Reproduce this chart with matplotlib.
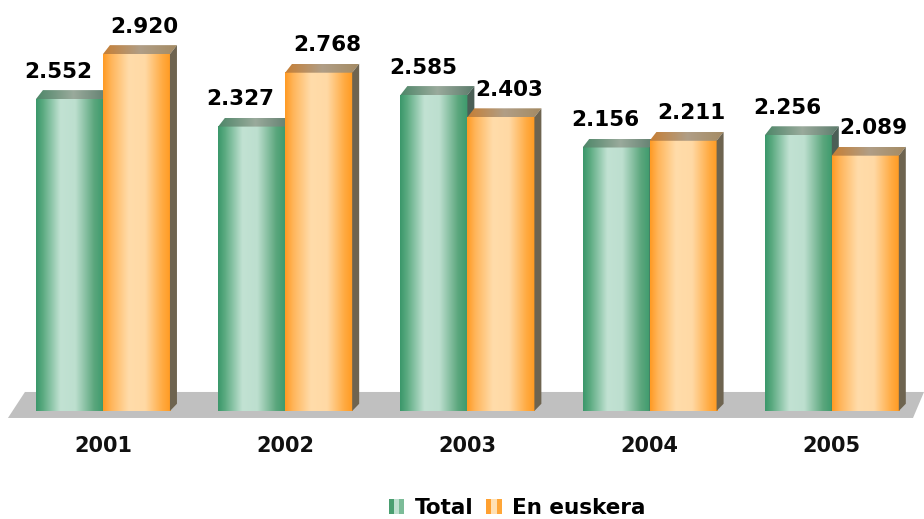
import matplotlib
matplotlib.use("Agg")
import matplotlib.pyplot as plt
import numpy as np
from matplotlib.colors import LinearSegmentedColormap
from matplotlib.patches import Polygon, Rectangle, Patch
from matplotlib.legend_handler import HandlerBase

years = ["2001", "2002", "2003", "2004", "2005"]
total = [2552, 2327, 2585, 2156, 2256]
euskera = [2920, 2768, 2403, 2211, 2089]
series_names = ["Total", "En euskera"]

plt.rcParams["font.family"] = "DejaVu Sans"
plt.rcParams["font.weight"] = "bold"

fig = plt.figure(figsize=(9.24, 5.19), dpi=100)
ax = fig.add_axes([0, 0, 1, 1])
ax.set_xlim(-0.565, 4.506)
ax.set_ylim(-884, 3363)
ax.axis("off")

# pixel helpers for the fake 3d depth
px_x = 1 / 182.2
px_y = 8.18
dx = 7 * px_x
dy = 9 * px_y
w = 67 * px_x

green_front = LinearSegmentedColormap.from_list("gf", [
    (0.0, "#3a976a"), (0.1, "#5aaa80"), (0.36, "#c2e2d3"), (0.58, "#bddfcf"),
    (0.86, "#5aa67c"), (1.0, "#3c9a6c")])
orange_front = LinearSegmentedColormap.from_list("of", [
    (0.0, "#ff9a22"), (0.12, "#ffb55a"), (0.38, "#ffdcaa"), (0.62, "#ffd9a5"),
    (0.88, "#ffaa40"), (1.0, "#ff9a20")])
green_top = LinearSegmentedColormap.from_list("gt", ["#4d8668", "#9aaa9c", "#5a7a6a"])
orange_top = LinearSegmentedColormap.from_list("ot", ["#c67e34", "#b09e86", "#a48a62"])
green_side = "#4b5f56"
orange_side = "#6e6450"

grad = np.linspace(0, 1, 256).reshape(1, -1)


def bar3d(x0, h, front, top, side, z):
    ax.imshow(grad, cmap=front, extent=[x0, x0 + w, 0, h], aspect="auto",
              interpolation="bicubic", zorder=z)
    tp = Polygon([(x0, h), (x0 + dx, h + dy), (x0 + w + dx, h + dy), (x0 + w, h)],
                 closed=True, fc="none", ec="none", zorder=z)
    ax.add_patch(tp)
    im = ax.imshow(grad, cmap=top, extent=[x0, x0 + w + dx, h, h + dy],
                   aspect="auto", interpolation="bicubic", zorder=z)
    im.set_clip_path(tp)
    ax.add_patch(Polygon([(x0 + w, 0), (x0 + w + dx, dy * 0.8), (x0 + w + dx, h + dy),
                          (x0 + w, h)], closed=True, fc=side, ec="none", zorder=z))


# grey floor
fx = lambda p: (p - 103) * px_x
fy = lambda p: (411 - p) * px_y
ax.add_patch(Polygon([(fx(8), fy(418)), (fx(25), fy(392)), (fx(924), fy(392)),
                      (fx(913), fy(418))], closed=True, fc="#c0c0c0", ec="none", zorder=1))

for i, yr in enumerate(years):
    bar3d(i - w, total[i], green_front, green_top, green_side, 2 + 2 * i)
    bar3d(i, euskera[i], orange_front, orange_top, orange_side, 3 + 2 * i)
    for x, v, off in [(i - w / 2, total[i], -0.06), (i + w / 2, euskera[i], 0.045)]:
        ax.text(x + off, v + dy + 70, f"{v:,}".replace(",", "."), ha="center",
                va="bottom", fontsize=15.5, fontweight="bold", color="black", zorder=20)
    ax.text(i, fy(446), yr, ha="center", va="center", fontsize=15,
            fontweight="bold", color="#111111")


class StripeHandler(HandlerBase):
    def __init__(self, cols):
        super().__init__()
        self.cols = cols

    def create_artists(self, legend, orig_handle, xdescent, ydescent, width,
                       height, fontsize, trans):
        n = len(self.cols)
        return [Rectangle((-xdescent + k * width / n, -ydescent), width / n, height,
                          fc=c, ec="none", transform=trans)
                for k, c in enumerate(self.cols)]


h_total = Patch(label=series_names[0])
h_eusk = Patch(label=series_names[1])
fig.legend(handles=[h_total, h_eusk], loc="center", bbox_to_anchor=(0.56, 0.021),
           ncol=2, frameon=False, handlelength=0.7, handleheight=0.7,
           handletextpad=0.5, columnspacing=0.6,
           prop={"size": 15.5, "weight": "bold"},
           handler_map={h_total: StripeHandler(["#4a9e70", "#c0e0d0", "#7cbc98"]),
                        h_eusk: StripeHandler(["#ffa030", "#ffe0b4", "#ffa638"])})

fig.savefig("out.png", dpi=100)
